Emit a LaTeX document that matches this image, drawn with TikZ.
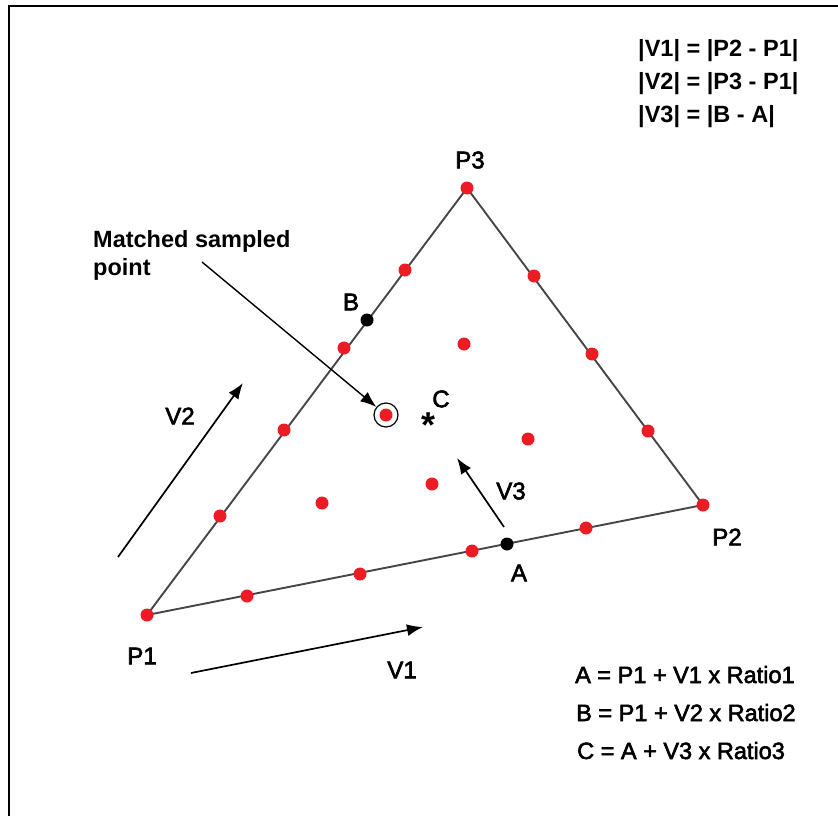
\documentclass[tikz,border=0pt]{standalone}
\usepackage{fontspec}
\setmainfont{Liberation Sans}
\newfontfamily\medfont{Liberation Sans}[FakeBold=2.5]
\usepackage{xcolor}
\usetikzlibrary{arrows.meta, positioning}
\definecolor{dotred}{RGB}{237,28,36}
\definecolor{sidegray}{RGB}{70,70,70}
\tikzset{
  sample/.style={circle, fill=dotred, inner sep=0pt, minimum size=13pt},
  endpt/.style={circle, fill=black, inner sep=0pt, minimum size=13pt},
  side/.style={draw=sidegray, line width=1.9pt},
  vec/.style={-{Latex[length=16pt, width=12pt]}, line width=1.7pt},
  ptlabel/.style={font=\medfont\fontsize{24}{28}\selectfont, inner sep=0pt},
  formula/.style={font=\medfont\fontsize{23.5}{28}\selectfont, anchor=base west, inner sep=0pt},
  boldformula/.style={formula, font=\fontsize{23.5}{28}\selectfont\bfseries}
}

\begin{document}
\begin{tikzpicture}[x=1pt, y=-1pt]
\useasboundingbox (0,0) rectangle (838,816);

% Frame (left and top)
\draw[line width=2.5pt] (9,816) -- (9,6) -- (838,6);

% Triangle corners
\coordinate (P1) at (147,615);
\coordinate (P2) at (703,505);
\coordinate (P3) at (467,188);
\draw[side] (P1) -- (P2) -- (P3) -- cycle;

% Sampled points on the sides
\foreach \x/\y in {247/596, 360/574, 472/551, 586/528,
                   220/516, 284/430, 344/348, 405/270,
                   534/276, 592/354, 648/431}
  \node[sample] at (\x,\y) {};
\node[sample] at (P1) {};
\node[sample] at (P2) {};
\node[sample] at (P3) {};

% Sampled points inside
\foreach \x/\y in {464/344, 528/439, 432/484, 322/503}
  \node[sample] at (\x,\y) {};

% Matched point
\node[draw, circle, line width=1.2pt, minimum size=24pt, inner sep=0pt] (ring) at (386,415) {};
\node[sample] (matched) at (ring) {};

% A and B
\node[endpt] (A) at (507,544) {};
\node[endpt] (B) at (367,320) {};

% C
\node[font=\bfseries\fontsize{36}{36}\selectfont, inner sep=0pt] (C) at (428,425) {*};

% Labels
\node[ptlabel] (lP1) at (142,656) {P1};
\node[ptlabel] (lP2) at (727,537) {P2};
\node[ptlabel] (lP3) at (470,160) {P3};
\node[ptlabel] (lA) at (519,573) {A};
\node[ptlabel] (lB) at (351,302) {B};
\node[ptlabel] (lC) at (441,399) {C};
\node[ptlabel] (lV1) at (402,670) {V1};
\node[ptlabel] (lV2) at (180,416) {V2};
\node[ptlabel] (lV3) at (511,491) {V3};

% Vectors
\coordinate (v1s) at (191,673);
\coordinate (v1e) at (423,627);
\coordinate (v2s) at (118,557);
\coordinate (v2e) at (243,383);
\coordinate (v3s) at (504,527);
\coordinate (v3e) at (457,458);
\draw[vec] (v1s) -- (v1e);
\draw[vec] (v2s) -- (v2e);
\draw[vec] (v3s) -- (v3e);

% Callout
\node[boldformula] (note1) at (93,247) {Matched sampled};
\node[boldformula] (note2) at (93,275) {point};
\coordinate (ns) at (202,262);
\draw[vec, line width=1.4pt] (ns) -- (ring);

% Formulas
\node[boldformula] (f1) at (638,56.5) {|V1| = |P2 - P1|};
\node[boldformula] (f2) at (638,89.5) {|V2| = |P3 - P1|};
\node[boldformula] (f3) at (638,122) {|V3| = |B - A|};
\node[formula] (g1) at (575,683) {A = P1 + V1 x Ratio1};
\node[formula] (g2) at (576,721) {B = P1 + V2 x Ratio2};
\node[formula] (g3) at (577,759) {C = A + V3 x Ratio3};

\end{tikzpicture}
\end{document}
